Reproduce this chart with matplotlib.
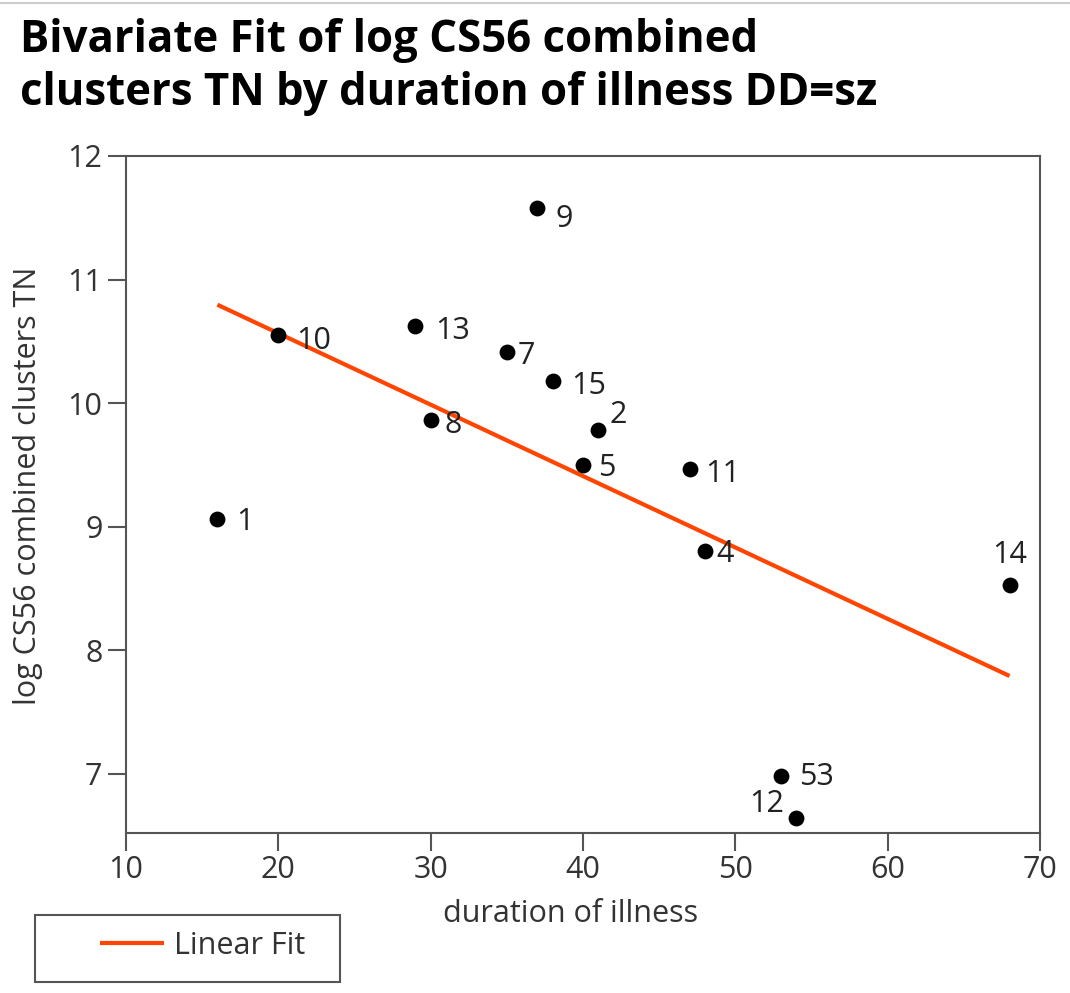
import matplotlib
matplotlib.use("Agg")
import matplotlib.pyplot as plt
from matplotlib.lines import Line2D
from matplotlib.patches import Rectangle
import numpy as np

plt.rcParams["font.family"] = ["Open Sans", "DejaVu Sans"]

# data
row_ids = ["1", "10", "13", "8", "9", "7", "15", "2", "5", "11", "4", "14", "53", "12"]
duration = np.array([16, 20, 29, 30, 37, 35, 38, 41, 40, 47, 48, 68, 53, 54])
log_cs56 = np.array([9.06, 10.55, 10.62, 9.86, 11.58, 10.41, 10.18,
                     9.78, 9.50, 9.47, 8.80, 8.53, 6.98, 6.64])

title = "Bivariate Fit of log CS56 combined\nclusters TN by duration of illness DD=sz"
x_ticks = [10, 20, 30, 40, 50, 60, 70]
y_ticks = [7, 8, 9, 10, 11, 12]

# label offsets (px) relative to each point, plus alignment
label_style = {
    "1": (19, -3, "left"), "10": (18, -6, "left"), "13": (20, -5, "left"),
    "8": (14, -5, "left"), "9": (18, -11, "left"), "7": (11, -4, "left"),
    "15": (19, -5, "left"), "2": (11, 15, "left"), "5": (15, -3, "left"),
    "11": (16, -5, "left"), "4": (12, -3, "left"), "14": (0, 30, "center"),
    "53": (18, -1, "left"), "12": (-12, 14, "right"),
}

fs = 22

fig = plt.figure(figsize=(10.7, 9.93), dpi=100)
ax = fig.add_axes([126 / 1070, 1 - 833 / 993, 914 / 1070, 677 / 993])

slope, intercept = np.polyfit(duration, log_cs56, 1)
fit_x = np.array([duration.min(), duration.max()])
ax.plot(fit_x, slope * fit_x + intercept, color="#ff4500", lw=3, label="Linear Fit",
        zorder=2, solid_capstyle="butt")

ax.scatter(duration, log_cs56, s=130, color="black", zorder=3, linewidths=0)

px = 0.72
for rid, xv, yv in zip(row_ids, duration, log_cs56):
    dx, dy, ha = label_style[rid]
    ax.annotate(rid, (xv, yv), xytext=(dx * px, dy * px), textcoords="offset points",
                ha=ha, va="center", fontsize=fs, color="#222222")

ax.set_xlim(10, 70)
ax.set_ylim(6.52, 12)
ax.set_xticks(x_ticks)
ax.set_yticks(y_ticks)
ax.tick_params(length=13, width=1.5, color="#555555", labelsize=fs,
               labelcolor="#333333", direction="out")
ax.tick_params(axis="x", pad=3)
ax.tick_params(axis="y", pad=4)
for sp in ax.spines.values():
    sp.set_color("#555555")
    sp.set_linewidth(1.5)

ax.set_xlabel("duration of illness", fontsize=fs, color="#333333")
ax.xaxis.set_label_coords(0.486, -0.097)
ax.set_ylabel("log CS56 combined clusters TN", fontsize=fs, color="#333333", va="center")
ax.yaxis.set_label_coords(-0.107, 0.513)

fig.text(20 / 1070, 1 - 18 / 993, title, fontsize=31.5, fontweight="bold",
         ha="left", va="top", linespacing=1.25, color="black")

# thin rule at the very top
fig.add_artist(Line2D([0, 1], [1 - 3 / 993, 1 - 3 / 993], color="#cccccc", lw=1.5))

# legend box below the axes
fig.add_artist(Rectangle((35 / 1070, 1 - 982 / 993), 305 / 1070, 67 / 993,
                         transform=fig.transFigure, fill=False,
                         edgecolor="#555555", lw=1.5))
ax.legend(loc="center left", bbox_to_anchor=(100 / 1070, 1 - 946 / 993),
          bbox_transform=fig.transFigure, frameon=False, fontsize=fs,
          handlelength=2.1, handletextpad=0.33, borderpad=0, borderaxespad=0,
          labelcolor="#333333")

fig.savefig("out.png", dpi=100)
